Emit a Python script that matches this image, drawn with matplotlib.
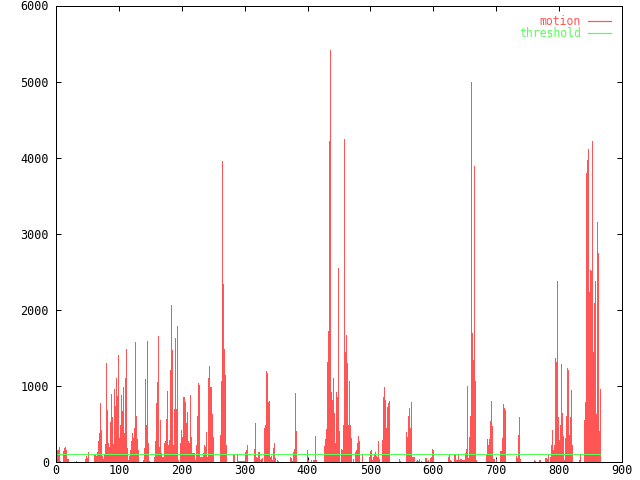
import numpy as np
import matplotlib
matplotlib.use('Agg')
import matplotlib.pyplot as plt
from matplotlib.lines import Line2D

# motion value per frame (roughly one value per pixel column)
motion = [
    160, 160, 200, 10, 5, 5, 150, 185, 200, 160,
    40, 40, 5, 5, 5, 5, 5, 5, 5, 15,
    5, 5, 5, 5, 5, 5, 5, 5, 45, 85,
    50, 135, 5, 5, 5, 5, 5, 105, 105, 75,
    130, 270, 385, 780, 425, 75, 40, 95, 240, 1300,
    690, 245, 200, 520, 900, 585, 240, 965, 730, 1100,
    865, 1410, 310, 480, 875, 675, 980, 380, 1100, 1480,
    190, 20, 75, 155, 280, 385, 320, 445, 1575, 610,
    305, 155, 5, 5, 5, 5, 30, 190, 1085, 490,
    1585, 245, 15, 5, 5, 5, 5, 60, 275, 770,
    1055, 1650, 200, 550, 115, 70, 70, 245, 270, 565,
    935, 225, 290, 1210, 2065, 1475, 225, 700, 1625, 700,
    1790, 25, 5, 245, 420, 335, 850, 850, 785, 510,
    660, 270, 245, 880, 335, 115, 120, 115, 25, 225,
    600, 1035, 1015, 70, 70, 70, 115, 230, 200, 390,
    70, 1100, 1265, 980, 980, 625, 335, 5, 5, 5,
    5, 5, 5, 355, 1070, 3960, 2340, 1485, 1150, 225,
    5, 5, 5, 5, 5, 5, 90, 90, 5, 5,
    90, 10, 10, 10, 10, 10, 10, 10, 135, 160,
    225, 5, 5, 5, 5, 5, 5, 165, 510, 70,
    50, 130, 130, 25, 35, 50, 5, 445, 485, 1190,
    1175, 795, 805, 70, 80, 25, 190, 255, 50, 5,
    25, 15, 5, 5, 5, 5, 5, 5, 5, 5,
    5, 5, 5, 70, 50, 15, 135, 170, 905, 410,
    5, 5, 5, 5, 5, 5, 5, 5, 5, 5,
    160, 25, 5, 5, 25, 5, 25, 25, 340, 25,
    5, 5, 5, 5, 5, 5, 5, 210, 305, 430,
    1320, 1725, 4220, 5420, 925, 815, 1100, 640, 245, 925,
    860, 2550, 410, 5, 170, 160, 485, 4250, 1445, 1670,
    1300, 480, 1070, 485, 310, 5, 35, 5, 135, 160,
    245, 340, 270, 5, 5, 90, 5, 5, 5, 5,
    5, 5, 70, 150, 160, 25, 70, 100, 127, 85,
    70, 275, 35, 5, 5, 290, 860, 990, 815, 445,
    720, 770, 805, 5, 5, 5, 5, 5, 5, 5,
    5, 5, 35, 15, 5, 5, 5, 5, 5, 400,
    325, 605, 705, 445, 785, 70, 70, 70, 5, 15,
    25, 15, 35, 5, 15, 5, 5, 5, 50, 55,
    15, 25, 5, 50, 70, 170, 160, 5, 5, 5,
    5, 5, 5, 5, 5, 5, 5, 5, 5, 5,
    5, 60, 90, 25, 15, 5, 5, 90, 90, 25,
    25, 90, 25, 45, 45, 20, 20, 20, 120, 175,
    1005, 50, 335, 605, 4990, 1700, 1340, 3885, 1070, 20,
    5, 5, 5, 5, 5, 5, 5, 5, 5, 90,
    305, 225, 300, 540, 805, 475, 40, 35, 5, 40,
    5, 5, 5, 150, 150, 320, 765, 705, 685, 5,
    5, 5, 5, 5, 5, 5, 5, 5, 5, 80,
    57, 355, 590, 40, 5, 5, 5, 5, 5, 5,
    5, 5, 5, 5, 5, 5, 5, 26, 15, 5,
    5, 5, 20, 20, 5, 5, 5, 5, 48, 57,
    40, 92, 5, 70, 225, 420, 160, 225, 1370, 1320,
    2385, 590, 290, 485, 1290, 650, 340, 25, 310, 605,
    1235, 1210, 355, 595, 950, 225, 5, 5, 5, 5,
    5, 5, 26, 92, 5, 5, 5, 550, 795, 3800,
    3965, 4120, 2240, 2525, 2505, 4225, 1440, 2090, 2380, 630,
    3155, 2745, 410, 960,
]
first_frame = 1
last_frame = 865
threshold = 100

x_ticks = [0, 100, 200, 300, 400, 500, 600, 700, 800, 900]
y_ticks = [0, 1000, 2000, 3000, 4000, 5000, 6000]

red = '#ff5555'
green = '#55ff55'

frame = np.linspace(first_frame, last_frame, len(motion))

fig = plt.figure(figsize=(6.4, 4.8), dpi=100)
ax = fig.add_axes([56 / 640, 18 / 480, 566 / 640, 456.5 / 480])

px = 72 / 100  # one pixel in points
ax.vlines(frame, 0, motion, colors=red, linewidth=px, antialiased=False, zorder=3)
ax.plot(frame, [threshold] * len(frame), color=green, linewidth=px, antialiased=False, zorder=4)

ax.set_xlim(0, 900)
ax.set_ylim(0, 6000)
ax.set_xticks(x_ticks)
ax.set_yticks(y_ticks)

mono = 'DejaVu Sans Mono'
ax.tick_params(direction='in', length=5 * px, width=px, top=True, right=True,
               labelsize=8.5)
ax.tick_params(axis='x', pad=1.5)
ax.tick_params(axis='y', pad=5)
for lab in ax.get_xticklabels() + ax.get_yticklabels():
    lab.set_family(mono)
for sp in ax.spines.values():
    sp.set_linewidth(px)
    sp.set_zorder(2)

handles = [Line2D([], [], color=red, linewidth=1.2 * px), Line2D([], [], color=green, linewidth=1.2 * px)]
ax.legend(handles, ['motion', 'threshold'], loc='upper right', bbox_to_anchor=(0.98, 0.98),
          markerfirst=False, frameon=False, labelcolor=[red, green],
          prop={'family': mono, 'size': 8.3}, handlelength=1.95, handletextpad=0.65,
          labelspacing=-0.05, borderpad=0.0, borderaxespad=0.0)

fig.savefig('out.png', dpi=100)
